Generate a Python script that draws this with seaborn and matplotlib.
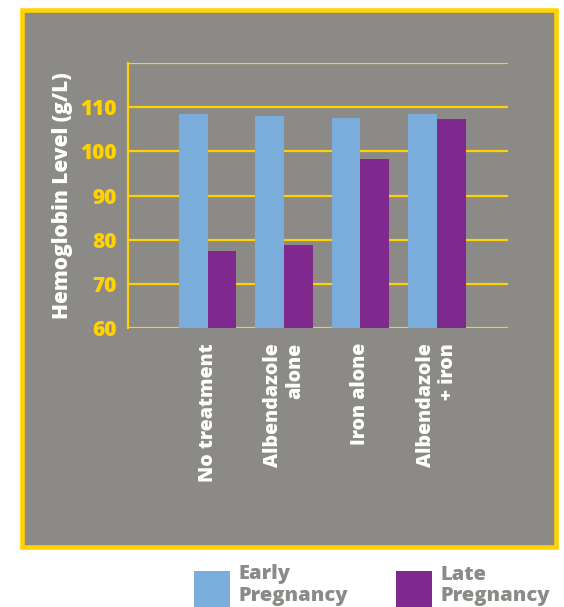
import matplotlib
matplotlib.use("Agg")
import matplotlib.pyplot as plt
from matplotlib.patches import Rectangle
import pandas as pd
import seaborn as sns

# Hemoglobin levels (g/L) by treatment group
treatments = ["No treatment", "Albendazole\nalone", "Iron alone", "Albendazole\n+ iron"]
early_pregnancy = [108.6, 108.1, 107.7, 108.6]
late_pregnancy = [77.4, 78.8, 98.3, 107.4]
periods = ["Early\nPregnancy", "Late\nPregnancy"]
y_ticks = [60, 70, 80, 90, 100, 110]

GREY = "#8c8a87"
YELLOW = "#ffd200"
BLUE = "#7aaddb"
PURPLE = "#7f288e"
WEIGHT = 800

df = pd.DataFrame({
    "treatment": treatments * 2,
    "period": [periods[0]] * len(treatments) + [periods[1]] * len(treatments),
    "level": early_pregnancy + late_pregnancy,
})

sns.set_theme(style="white")
plt.rcParams["font.family"] = ["Open Sans", "DejaVu Sans"]

W, H = 564, 607
fig = plt.figure(figsize=(W / 100, H / 100), dpi=100)
fig.patch.set_facecolor("white")

def fx(px):
    return px / W

def fy(py):
    return 1 - py / H

# grey panel with yellow border
panel = Rectangle((fx(22.25), fy(546.75)), fx(555.75) - fx(22.25), fy(10.25) - fy(546.75),
                  transform=fig.transFigure, facecolor=GREY, edgecolor=YELLOW,
                  linewidth=3.3, zorder=-1)
fig.add_artist(panel)

ax = fig.add_axes([fx(127.7), fy(327.7), fx(507.7) - fx(127.7), fy(63.3) - fy(327.7)])
ax.set_facecolor("none")

sns.barplot(data=df, x="treatment", y="level", hue="period",
            palette=[BLUE, PURPLE], saturation=1, width=0.75,
            dodge=True, legend=False, ax=ax, zorder=3)

# bars rise from the 60 g/L baseline
for bar in ax.patches:
    top = bar.get_height()
    bar.set_y(60)
    bar.set_height(top - 60)
    bar.set_linewidth(0)

ax.set_ylim(60, 120)
ax.set_xlim(-1.047, 3.927)
ax.set_yticks(y_ticks + [120])
ax.set_yticklabels([str(t) for t in y_ticks] + [""])
ax.yaxis.grid(True, color=YELLOW, linewidth=1.6, zorder=0)
ax.set_axisbelow(True)

for side in ["top", "right", "bottom"]:
    ax.spines[side].set_visible(False)
ax.spines["left"].set_color(YELLOW)
ax.spines["left"].set_linewidth(1.6)

ax.tick_params(axis="y", colors=YELLOW, length=2, width=1.6, pad=6, labelsize=15)
for lab in ax.get_yticklabels():
    lab.set_fontweight(WEIGHT)
    lab.set_color(YELLOW)

ax.tick_params(axis="x", length=0, pad=11)
ax.set_xticks(range(len(treatments)))
ax.set_xticklabels(treatments, rotation=90, fontsize=14, fontweight=WEIGHT,
                   color="white", va="top", ha="center", multialignment="right",
                   linespacing=1.1)

ax.set_xlabel("")
ax.set_ylabel("Hemoglobin Level (g/L)", fontsize=15, fontweight=WEIGHT,
              color="white", labelpad=5)

# legend under the panel
legend_items = [(194, BLUE, periods[0]), (396, PURPLE, periods[1])]
for x0, color, label in legend_items:
    fig.add_artist(Rectangle((fx(x0), fy(612)), fx(x0 + 35.5) - fx(x0), fy(570.5) - fy(612),
                             transform=fig.transFigure, facecolor=color,
                             edgecolor="none"))
    fig.text(fx(x0 + 44), fy(606), label, transform=fig.transFigure,
             ha="left", va="bottom", fontsize=14.5, fontweight=WEIGHT,
             color=GREY, linespacing=1.1)

fig.savefig("out.png", dpi=100, facecolor="white")
